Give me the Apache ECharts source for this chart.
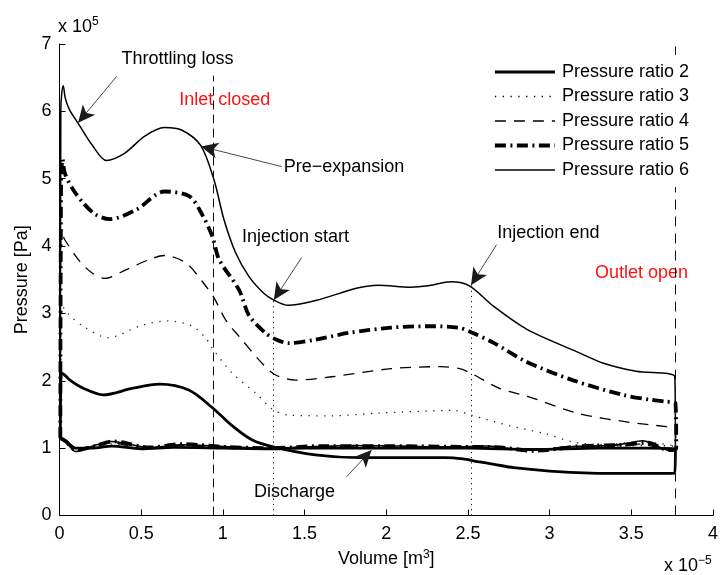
<!DOCTYPE html>
<html>
<head>
<meta charset="utf-8">
<script src="https://cdn.jsdelivr.net/npm/echarts@6/dist/echarts.min.js"></script>
<style>
  html, body { margin: 0; padding: 0; background: #fff; }
  #main { width: 721px; height: 575px; }
</style>
</head>
<body>
<div id="main"></div>
<script>
// P-V loops of the expander: [volume (x1e-5 m^3), pressure (x1e5 Pa)]
// Each loop: expansion path (top) then discharge path back to V = 0.

const seriesNames = ['Pressure ratio 2', 'Pressure ratio 3', 'Pressure ratio 4', 'Pressure ratio 5', 'Pressure ratio 6'];

const xTicks = ['0', '0.5', '1', '1.5', '2', '2.5', '3', '3.5', '4'];
const yTicks = ['0', '1', '2', '3', '4', '5', '6', '7'];

const top2 = [[0.005, 1.15], [0.008, 2.0], [0.013, 2.11], [0.025, 2.1], [0.064, 2.01], [0.145, 1.89], [0.267, 1.79],
  [0.449, 1.89], [0.612, 1.95], [0.794, 1.86], [0.936, 1.60], [1.058, 1.33], [1.18, 1.12], [1.307, 1.02],
  [1.565, 0.90], [1.83, 0.86], [2.1, 0.86], [2.36, 0.86], [2.47, 0.84], [2.56, 0.80], [2.66, 0.76], [2.78, 0.71],
  [3.0, 0.66], [3.25, 0.63], [3.5, 0.625], [3.766, 0.63], [3.77, 0.98]];
const ret2 = [[3.6, 1.0], [3.3, 1.0], [2.9, 0.98], [2.5, 1.0], [2.0, 1.0], [1.5, 1.0], [1.3, 0.99], [1.0, 1.0],
  [0.7, 1.01], [0.5, 0.99], [0.32, 1.03], [0.2, 1.0], [0.1, 1.0], [0.04, 1.1], [0.005, 1.15]];

const top3 = [[0.005, 1.15], [0.01, 2.9], [0.019, 3.10], [0.05, 3.0], [0.145, 2.81], [0.297, 2.64], [0.5, 2.82],
  [0.662, 2.89], [0.814, 2.81], [0.896, 2.63], [0.936, 2.48], [1.058, 2.11], [1.20, 1.82], [1.307, 1.57],
  [1.403, 1.49], [1.667, 1.48], [1.95, 1.52], [2.417, 1.56], [2.52, 1.49], [2.76, 1.33], [2.965, 1.22],
  [3.148, 1.09], [3.35, 1.05], [3.55, 1.1], [3.77, 1.03]];
const ret3 = [[3.6, 1.04], [3.3, 1.02], [2.9, 0.99], [2.5, 1.01], [2.0, 1.01], [1.5, 1.01], [1.3, 1.0], [1.0, 1.01],
  [0.7, 1.03], [0.5, 1.0], [0.32, 1.06], [0.2, 1.0], [0.1, 0.99], [0.04, 1.1], [0.005, 1.15]];

const top4 = [[0.005, 1.15], [0.008, 4.0], [0.013, 4.19], [0.033, 4.09], [0.125, 3.77], [0.2, 3.6], [0.277, 3.52],
  [0.409, 3.65], [0.55, 3.80], [0.642, 3.86], [0.774, 3.75], [0.875, 3.47], [0.946, 3.23], [1.018, 2.90],
  [1.099, 2.66], [1.24, 2.26], [1.32, 2.09], [1.444, 2.01], [1.667, 2.06], [2.03, 2.18], [2.336, 2.21],
  [2.45, 2.18], [2.52, 2.11], [2.70, 1.88], [2.864, 1.77], [3.168, 1.52], [3.47, 1.39], [3.716, 1.32],
  [3.77, 1.31], [3.772, 1.0]];
const ret4 = [[3.7, 1.0], [3.55, 1.06], [3.35, 1.04], [3.1, 1.02], [2.88, 0.97], [2.7, 1.0], [2.4, 1.02], [2.0, 1.02],
  [1.6, 1.02], [1.3, 1.0], [1.0, 1.01], [0.75, 1.04], [0.5, 1.0], [0.32, 1.08], [0.2, 1.01], [0.1, 0.98],
  [0.04, 1.1], [0.005, 1.15]];

const top5 = [[0.005, 1.15], [0.01, 5.0], [0.019, 5.29], [0.033, 5.08], [0.08, 4.85], [0.145, 4.64], [0.22, 4.47],
  [0.307, 4.40], [0.47, 4.54], [0.642, 4.81], [0.794, 4.74], [0.875, 4.46], [0.936, 4.14], [0.977, 3.80],
  [1.099, 3.35], [1.16, 2.97], [1.26, 2.71], [1.32, 2.62], [1.40, 2.56], [1.565, 2.61], [1.768, 2.71],
  [2.03, 2.79], [2.255, 2.81], [2.44, 2.79], [2.52, 2.72], [2.66, 2.56], [2.86, 2.28], [3.14, 2.01],
  [3.45, 1.79], [3.614, 1.72], [3.716, 1.69], [3.77, 1.67], [3.775, 1.0]];
const ret5 = [[3.73, 0.97], [3.6, 1.08], [3.45, 1.05], [3.2, 1.03], [2.9, 0.96], [2.7, 1.01], [2.45, 1.02], [2.0, 1.03],
  [1.6, 1.03], [1.3, 1.0], [1.0, 1.02], [0.75, 1.06], [0.55, 1.01], [0.33, 1.1], [0.2, 1.02], [0.1, 0.97],
  [0.04, 1.1], [0.005, 1.15]];

const top6 = [[0.005, 1.15], [0.008, 6.0], [0.013, 6.25], [0.023, 6.38], [0.035, 6.2], [0.06, 6.03], [0.12, 5.80],
  [0.2, 5.5], [0.287, 5.27], [0.4, 5.38], [0.52, 5.63], [0.642, 5.76], [0.75, 5.72], [0.865, 5.49],
  [0.946, 4.98], [1.007, 4.39], [1.078, 3.90], [1.159, 3.55], [1.25, 3.30], [1.311, 3.20], [1.40, 3.12],
  [1.55, 3.18], [1.83, 3.38], [1.95, 3.42], [2.15, 3.39], [2.255, 3.41], [2.397, 3.47], [2.509, 3.41],
  [2.66, 3.10], [2.864, 2.76], [3.168, 2.43], [3.33, 2.26], [3.53, 2.14], [3.766, 2.06], [3.77, 1.0]];
const ret6 = [[3.74, 0.96], [3.66, 1.03], [3.57, 1.11], [3.47, 1.07], [3.3, 1.03], [3.1, 1.02], [2.93, 0.97],
  [2.78, 0.99], [2.62, 1.03], [2.4, 1.02], [2.1, 1.03], [1.8, 1.04], [1.5, 1.02], [1.3, 1.0], [1.05, 1.02],
  [0.75, 1.05], [0.55, 1.01], [0.32, 1.1], [0.2, 1.03], [0.1, 0.95], [0.04, 1.09], [0.005, 1.15]];

// Event positions (volume) and text annotations
const inletClosedV = 0.942;
const injectionStartV = 1.307;
const injectionEndV = 2.519;
const outletOpenV = 3.77;

const noteTexts = ['Throttling loss', 'Inlet closed', 'Pre\u2212expansion', 'Injection start', 'Injection end', 'Outlet open', 'Discharge'];
const notePos = [[0.38, 6.77], [0.733, 6.17], [1.372, 5.18], [1.117, 4.14], [2.68, 4.20], [3.278, 3.60], [1.19, 0.35]];
const noteRed = [false, true, false, false, false, true, false];

// Arrow tails and heads
const arrowFrom = [[0.35, 6.52], [1.36, 5.18], [1.482, 3.83], [2.675, 4.02], [1.758, 0.577]];
const arrowTo = [[0.114, 5.83], [0.866, 5.48], [1.312, 3.20], [2.519, 3.42], [1.91, 0.973]];

const FONT = 'Liberation Sans, Arial, Helvetica, sans-serif';

const loops = [top2.concat(ret2), top3.concat(ret3), top4.concat(ret4), top5.concat(ret5), top6.concat(ret6)];
const lineStyles = [
  { width: 2.8, type: 'solid' },
  { width: 1.3, type: [1.3, 6.5], color: '#222' },
  { width: 1.3, type: [11, 8] },
  { width: 3.8, type: [11, 4.5, 2, 4.5] },
  { width: 1.5, type: 'solid' }
];

const curveSeries = loops.map((d, i) => ({
  name: seriesNames[i],
  type: 'line',
  data: d,
  smooth: 0.3,
  symbol: 'none',
  clip: false,
  z: 3,
  lineStyle: Object.assign({ color: '#000', cap: 'butt' }, lineStyles[i]),
  itemStyle: { color: '#000' }
}));

const eventLine = (v, p0, p1, type) => [
  { coord: [v, p0], lineStyle: { type: type, color: '#111', width: 1 } },
  { coord: [v, p1] }
];

const annotationSeries = {
  name: 'notes',
  type: 'scatter',
  symbolSize: 0,
  clip: false,
  silent: true,
  z: 4,
  itemStyle: { opacity: 1, color: '#000' },
  data: notePos.map((p, i) => ({
    value: p,
    label: {
      show: true,
      position: 'right',
      distance: 0,
      formatter: noteTexts[i],
      fontFamily: FONT,
      fontSize: 18,
      color: noteRed[i] ? '#ff1010' : '#000'
    }
  })),
  markLine: {
    silent: true,
    animation: false,
    symbol: ['none', 'none'],
    label: { show: false },
    data: [
      eventLine(inletClosedV, 0, 6.53, [9, 5]),
      eventLine(outletOpenV, 0, 7, [10, 7]),
      eventLine(injectionStartV, 0, 3.2, [1.2, 4]),
      eventLine(injectionEndV, 0, 3.42, [1.2, 4])
    ].concat(arrowFrom.map((a, i) => [
      { coord: a, symbol: 'none', lineStyle: { type: 'solid', color: '#1a1a1a', width: 0.8 } },
      { coord: arrowTo[i], symbol: 'arrow', symbolSize: [12, 17] }
    ]))
  }
};

const chart = echarts.init(document.getElementById('main'), null, { renderer: 'canvas' });

chart.setOption({
  animation: false,
  backgroundColor: '#fff',
  textStyle: { fontFamily: FONT },
  grid: { left: 59.5, right: 4, top: 44, bottom: 59.5, containLabel: false },
  legend: {
    data: seriesNames,
    orient: 'vertical',
    left: 485,
    top: 55,
    padding: [8, 8, 8, 8],
    backgroundColor: '#fff',
    itemWidth: 60,
    itemHeight: 18,
    itemGap: 6.5,
    itemStyle: { opacity: 0, borderWidth: 0 },
    lineStyle: { width: 'inherit', type: 'inherit', color: '#000', opacity: 1 },
    textStyle: { fontFamily: FONT, fontSize: 18, color: '#000', padding: [0, 0, 0, 2] },
    selectedMode: false,
    z: 10
  },
  xAxis: {
    type: 'value',
    min: 0,
    max: 4,
    interval: 0.5,
    name: 'Volume [m{sup|3}]',
    nameLocation: 'middle',
    nameGap: 31,
    nameTextStyle: {
      fontFamily: FONT, fontSize: 18, color: '#000',
      rich: { sup: { fontFamily: FONT, fontSize: 12, color: '#000', padding: [0, 0, 10, 0] } }
    },
    axisLine: { show: true, lineStyle: { color: '#000', width: 1 } },
    axisTick: { show: true, inside: true, length: 6, lineStyle: { color: '#000' } },
    axisLabel: {
      fontFamily: FONT, fontSize: 18, color: '#000', margin: 10,
      formatter: (v) => xTicks[Math.round(v / 0.5)]
    },
    splitLine: { show: false }
  },
  yAxis: {
    type: 'value',
    min: 0,
    max: 7,
    interval: 1,
    name: 'Pressure [Pa]',
    nameLocation: 'middle',
    nameGap: 25,
    nameTextStyle: { fontFamily: FONT, fontSize: 18, color: '#000' },
    axisLine: { show: true, lineStyle: { color: '#000', width: 1 } },
    axisTick: { show: true, inside: true, length: 6, lineStyle: { color: '#000' } },
    axisLabel: {
      fontFamily: FONT, fontSize: 18, color: '#000', margin: 8,
      formatter: (v) => yTicks[Math.round(v)]
    },
    splitLine: { show: false }
  },
  graphic: [
    {
      type: 'text', left: 58, top: 16, z: 10,
      style: {
        text: 'x 10{s|5}',
        fontFamily: FONT, fontSize: 18, fill: '#000',
        rich: { s: { fontFamily: FONT, fontSize: 12, fill: '#000', padding: [0, 0, 10, 0] } }
      }
    },
    {
      type: 'text', left: 664, top: 555, z: 10,
      style: {
        text: 'x 10{s|\u22125}',
        fontFamily: FONT, fontSize: 18, fill: '#000',
        rich: { s: { fontFamily: FONT, fontSize: 12, fill: '#000', padding: [0, 0, 10, 0] } }
      }
    }
  ],
  series: curveSeries.concat([annotationSeries])
});
</script>
</body>
</html>
